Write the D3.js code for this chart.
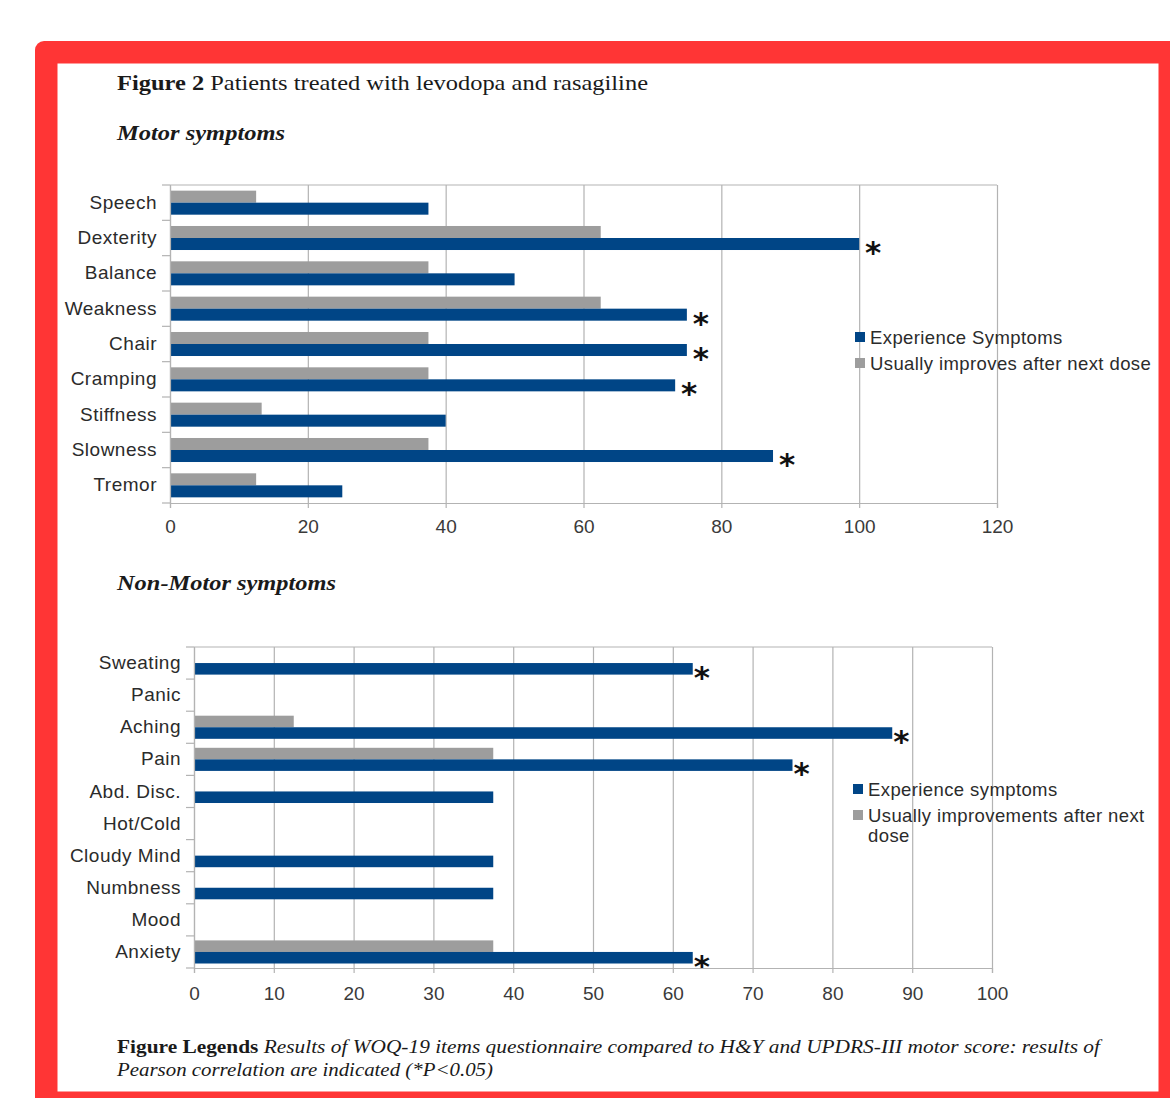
<!DOCTYPE html>
<html>
<head>
<meta charset="utf-8">
<script src="https://cdn.jsdelivr.net/npm/d3@7"></script>
<style>
  html, body { margin: 0; padding: 0; background: #ffffff; }
  svg { display: block; }
</style>
</head>
<body>
<svg id="chart" width="1170" height="1098"></svg>
<script>
// ---------- DATA ----------
const motorCategories = ["Speech", "Dexterity", "Balance", "Weakness", "Chair", "Cramping", "Stiffness", "Slowness", "Tremor"];
const motorExperience = [37.5, 100, 50, 75, 75, 73.3, 40, 87.5, 25];
const motorImproves = [12.5, 62.5, 37.5, 62.5, 37.5, 37.5, 13.3, 37.5, 12.5];
const motorSignificant = [false, true, false, true, true, true, false, true, false];
const motorTicks = [0, 20, 40, 60, 80, 100, 120];
const motorLegend = ["Experience Symptoms", "Usually improves after next dose"];

const nonMotorCategories = ["Sweating", "Panic", "Aching", "Pain", "Abd. Disc.", "Hot/Cold", "Cloudy Mind", "Numbness", "Mood", "Anxiety"];
const nonMotorExperience = [62.5, 0, 87.5, 75, 37.5, 0, 37.5, 37.5, 0, 62.5];
const nonMotorImproves = [0, 0, 12.5, 37.5, 0, 0, 0, 0, 0, 37.5];
const nonMotorSignificant = [true, false, true, true, false, false, false, false, false, true];
const nonMotorTicks = [0, 10, 20, 30, 40, 50, 60, 70, 80, 90, 100];
const nonMotorLegend = ["Experience symptoms", ["Usually improvements after next", "dose"]];

const figureTitleBold = "Figure 2";
const figureTitleRest = " Patients treated with levodopa and rasagiline";
const motorTitle = "Motor symptoms";
const nonMotorTitle = "Non-Motor symptoms";
const captionBold = "Figure Legends";
const captionLine1 = " Results of WOQ-19 items questionnaire compared to H&Y and UPDRS-III motor score: results of";
const captionLine2 = "Pearson correlation are indicated (*P<0.05)";

// ---------- STYLE ----------
const BLUE = "#004586";
const GRAY = "#9d9d9d";
const GRID = "#b3b3b3";
const TEXT = "#2b2b2b";
const SANS = "'Liberation Sans', Arial, sans-serif";
const SERIF = "'Liberation Serif', 'Times New Roman', serif";

const svg = d3.select("#chart");

// red frame
svg.append("rect").attr("x", 35).attr("y", 41).attr("width", 1170).attr("height", 1100)
  .attr("rx", 9).attr("fill", "#ff3535");
svg.append("rect").attr("x", 57.5).attr("y", 63.5).attr("width", 1158.5 - 57.5).attr("height", 1091.5 - 63.5)
  .attr("fill", "#ffffff");

// titles
const t = svg.append("text").attr("x", 117).attr("y", 90)
  .attr("font-family", SERIF).attr("font-size", 22).attr("fill", "#1a1a1a")
  .attr("textLength", 531).attr("lengthAdjust", "spacingAndGlyphs");
t.append("tspan").attr("font-weight", "bold").text(figureTitleBold);
t.append("tspan").text(figureTitleRest);

svg.append("text").attr("x", 117).attr("y", 140)
  .attr("font-family", SERIF).attr("font-size", 22).attr("font-weight", "bold").attr("font-style", "italic")
  .attr("fill", "#1a1a1a").attr("textLength", 168).attr("lengthAdjust", "spacingAndGlyphs").text(motorTitle);
svg.append("text").attr("x", 117).attr("y", 590)
  .attr("font-family", SERIF).attr("font-size", 22).attr("font-weight", "bold").attr("font-style", "italic")
  .attr("fill", "#1a1a1a").attr("textLength", 219).attr("lengthAdjust", "spacingAndGlyphs").text(nonMotorTitle);

// caption
const c1 = svg.append("text").attr("x", 117).attr("y", 1053)
  .attr("font-family", SERIF).attr("font-size", 18).attr("fill", "#1a1a1a")
  .attr("textLength", 983).attr("lengthAdjust", "spacingAndGlyphs");
c1.append("tspan").attr("font-weight", "bold").text(captionBold);
c1.append("tspan").attr("font-style", "italic").text(captionLine1);
svg.append("text").attr("x", 117).attr("y", 1076)
  .attr("font-family", SERIF).attr("font-size", 18).attr("font-style", "italic").attr("fill", "#1a1a1a")
  .attr("textLength", 376).attr("lengthAdjust", "spacingAndGlyphs")
  .text(captionLine2);

function drawChart(cfg) {
  const g = svg.append("g");
  const x = d3.scaleLinear().domain(cfg.domain).range([cfg.left, cfg.right]);
  const y = d3.scaleBand().domain(cfg.categories).range([cfg.top, cfg.bottom])
    .paddingInner(cfg.padInner).paddingOuter(cfg.padInner / 2);
  const sub = d3.scaleBand().domain(["improves", "experience"]).range([0, y.bandwidth()]);

  // gridlines
  g.append("g").attr("transform", `translate(0,${cfg.bottom})`)
    .call(d3.axisBottom(x).tickValues(cfg.ticks).tickSize(-(cfg.bottom - cfg.top)).tickFormat(""))
    .call(s => s.select(".domain").remove())
    .call(s => s.selectAll(".tick line").attr("stroke", GRID).attr("stroke-width", 1.2));

  // frame top
  g.append("line").attr("x1", cfg.left).attr("x2", cfg.right).attr("y1", cfg.top).attr("y2", cfg.top)
    .attr("stroke", GRID).attr("stroke-width", 1.2);

  // bars
  const rows = cfg.categories.map((c, i) => ({ c, exp: cfg.experience[i], imp: cfg.improves[i], sig: cfg.significant[i] }));
  g.selectAll("rect.imp").data(rows).enter().append("rect").attr("class", "imp")
    .attr("x", x(0)).attr("y", d => y(d.c) + sub("improves"))
    .attr("width", d => x(d.imp) - x(0)).attr("height", sub.bandwidth())
    .attr("fill", GRAY);
  g.selectAll("rect.exp").data(rows).enter().append("rect").attr("class", "exp")
    .attr("x", x(0)).attr("y", d => y(d.c) + sub("experience"))
    .attr("width", d => x(d.exp) - x(0)).attr("height", sub.bandwidth())
    .attr("fill", BLUE);

  // stars
  g.selectAll("text.star").data(rows.filter(d => d.sig)).enter().append("text").attr("class", "star")
    .attr("x", d => x(d.exp) + cfg.starGap)
    .attr("y", d => y(d.c) + sub("experience") + sub.bandwidth() / 2 + 19)
    .attr("text-anchor", "middle")
    .attr("font-family", "'DejaVu Sans', sans-serif").attr("font-size", 31).attr("font-weight", "bold")
    .attr("fill", "#111").text("*");

  // bottom axis
  const xa = g.append("g").attr("transform", `translate(0,${cfg.bottom})`)
    .call(d3.axisBottom(x).tickValues(cfg.ticks).tickSize(5).tickPadding(cfg.tickPad));
  xa.select(".domain").attr("stroke", GRID).attr("stroke-width", 1.2);
  xa.selectAll(".tick line").attr("stroke", GRID).attr("stroke-width", 1.2);
  xa.selectAll(".tick text").attr("font-family", SANS).attr("font-size", 19).attr("fill", "#3a3a3a");

  // left axis
  const ya = g.append("g").attr("transform", `translate(${cfg.left},0)`)
    .call(d3.axisLeft(y).tickSize(0).tickPadding(13));
  ya.select(".domain").attr("stroke", GRID).attr("stroke-width", 1.2);
  ya.selectAll(".tick text").attr("font-family", SANS).attr("font-size", 19).attr("letter-spacing", 0.5).attr("fill", TEXT);
  // category separators
  const seps = d3.range(cfg.categories.length + 1).map(i => cfg.top + i * y.step());
  g.selectAll("line.sep").data(seps).enter().append("line").attr("class", "sep")
    .attr("x1", cfg.left - 8).attr("x2", cfg.left).attr("y1", d => d).attr("y2", d => d)
    .attr("stroke", GRID).attr("stroke-width", 1.2);

  // legend
  const lg = g.append("g").attr("transform", `translate(${cfg.legendX},${cfg.legendY})`);
  const items = [{ label: cfg.legend[0], color: BLUE }, { label: cfg.legend[1], color: GRAY }];
  items.forEach((it, i) => {
    const yy = i * 26;
    lg.append("rect").attr("x", 0).attr("y", yy - 5).attr("width", 10).attr("height", 10).attr("fill", it.color);
    const lines = Array.isArray(it.label) ? it.label : [it.label];
    const tx = lg.append("text").attr("x", 15).attr("y", yy + 7)
      .attr("font-family", SANS).attr("font-size", 18.5).attr("letter-spacing", 0.4).attr("fill", TEXT);
    lines.forEach((ln, j) => tx.append("tspan").attr("x", 15).attr("dy", j === 0 ? 0 : 20).text(ln));
  });
}

drawChart({
  categories: motorCategories, experience: motorExperience, improves: motorImproves,
  significant: motorSignificant, ticks: motorTicks, legend: motorLegend,
  domain: [0, 120], left: 170, right: 997, top: 185, bottom: 503, padInner: 0.32,
  starGap: 14, legendX: 855, legendY: 337, tickPad: 12
});

drawChart({
  categories: nonMotorCategories, experience: nonMotorExperience, improves: nonMotorImproves,
  significant: nonMotorSignificant, ticks: nonMotorTicks, legend: nonMotorLegend,
  domain: [0, 100], left: 194, right: 992, top: 647, bottom: 968, padInner: 0.28,
  starGap: 9, legendX: 853, legendY: 789, tickPad: 14
});
</script>
</body>
</html>
